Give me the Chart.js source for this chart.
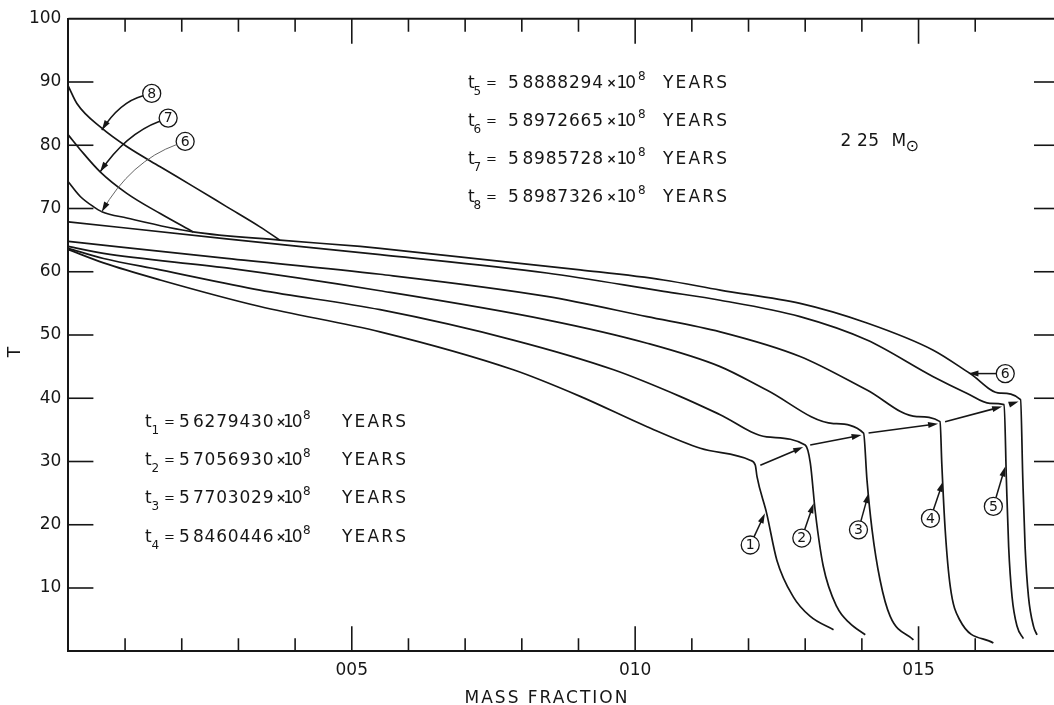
<!DOCTYPE html>
<html><head><meta charset="utf-8">
<script src="https://cdn.jsdelivr.net/npm/chart.js@4.4.1/dist/chart.umd.min.js"></script>
<style>html,body{margin:0;padding:0;background:#fff;overflow:hidden}#wrap{width:1054px;height:705px;position:relative}</style>
</head><body><div id="wrap"><canvas id="c" width="1054" height="705"></canvas></div>
<script>
// ---- data (mass fraction, T) ----
const massFrac1 = [0, 0.0062, 0.0162, 0.0338, 0.055, 0.0785, 0.0903, 0.1021, 0.1115, 0.1203, 0.1212, 0.1215, 0.1232, 0.125, 0.1279, 0.1309, 0.135];
const temp1     = [63.5, 61.4, 58.7, 54.5, 50.5, 44.5, 40.3, 35.5, 32.1, 30.2, 29.4, 27.6, 21.8, 14.4, 8.6, 5.5, 3.4];
const massFrac2 = [0, 0.0062, 0.0162, 0.0338, 0.055, 0.0785, 0.0962, 0.1079, 0.115, 0.1232, 0.1300, 0.1309, 0.1318, 0.1332, 0.1356, 0.1379, 0.1406];
const temp2     = [63.7, 62.1, 60.3, 57.1, 54.0, 49.2, 44.5, 40.3, 37.4, 33.9, 32.6, 29.8, 21.9, 13.4, 7.0, 4.4, 2.6];
const massFrac3 = [0, 0.0062, 0.0279, 0.055, 0.0844, 0.1021, 0.115, 0.1232, 0.135, 0.1403, 0.1409, 0.1418, 0.1432, 0.145, 0.1491];
const temp3     = [64.0, 62.9, 60.6, 57.0, 52.4, 48.7, 45.0, 41.3, 36.0, 34.5, 27.1, 19.2, 11.3, 5.5, 1.8];
const massFrac4 = [0, 0.0279, 0.055, 0.0844, 0.1021, 0.115, 0.1291, 0.1409, 0.1497, 0.1538, 0.1541, 0.1547, 0.1556, 0.1573, 0.1632];
const temp4     = [64.8, 62.1, 59.6, 56.1, 52.9, 50.5, 46.6, 41.3, 37.1, 36.3, 29.7, 19.2, 10.2, 4.9, 1.3];
const massFrac5 = [0, 0.0279, 0.055, 0.0844, 0.105, 0.115, 0.1291, 0.1409, 0.1526, 0.1585, 0.1626, 0.1651, 0.1655, 0.1659, 0.1665, 0.1674, 0.1685];
const temp5     = [67.9, 65.2, 62.7, 59.8, 56.9, 55.5, 52.9, 49.2, 43.4, 40.8, 39.2, 39.0, 27.1, 16.5, 8.6, 3.9, 2.0];
const massFrac6 = [0, 0.0021, 0.0044, 0.0059, 0.0103, 0.022, 0.0373, 0.0515, 0.055, 0.0903, 0.105, 0.115, 0.1291, 0.1409, 0.1526, 0.1591, 0.1644, 0.1680, 0.1684, 0.1688, 0.1694, 0.1703, 0.1709];
const temp6     = [74.2, 71.9, 70.3, 69.5, 68.5, 66.3, 65.0, 64.0, 63.7, 60.3, 58.7, 57.1, 55.0, 51.9, 47.6, 43.9, 40.8, 39.8, 27.1, 16.5, 8.6, 3.9, 2.6];
const massFrac7 = [0, 0.0021, 0.0056, 0.0103, 0.0162, 0.022];
const temp7     = [81.6, 79.3, 75.8, 72.4, 69.2, 66.3];
const massFrac8 = [0, 0.0015, 0.0059, 0.0103, 0.0162, 0.022, 0.0279, 0.0338, 0.0373];
const temp8     = [89.3, 86.6, 82.7, 79.8, 76.6, 73.5, 70.3, 67.1, 65.0];

const curveNames = ['1','2','3','4','5','6','7','8'];
const cornerIndex = [10, 10, 9, 9, 11, 17];   // end of the flat part of curves 1..6

// time labels t1..t8  (5.xxxxxxx x 10^8 years)
const timeSub  = ['1','2','3','4','5','6','7','8'];
const timeLead = ['5','5','5','5','5','5','5','5'];
const timeRest = ['6279430','7056930','7703029','8460446','8888294','8972665','8985728','8987326'];
const massLabel = ['2','25'];   // 2.25 M_sun

const xTickStep = 0.01, yTickStep = 10;

// callouts: circled number at [x,T], arrow to tip [x,T]
const callouts = [
  {n:'1', at:[0.1203,16.8], tip:[0.1229,21.8], bend:0},
  {n:'2', at:[0.1294,17.9], tip:[0.1315,23.4], bend:0},
  {n:'3', at:[0.1394,19.2], tip:[0.1412,25.0], bend:0},
  {n:'4', at:[0.1521,21.0], tip:[0.1543,26.8], bend:0},
  {n:'5', at:[0.1632,22.9], tip:[0.1653,29.2], bend:0},
  {n:'6', at:[0.1653,43.9], tip:[0.1588,43.9], bend:0},
  {n:'8', at:[0.0147,88.2], tip:[0.0059,82.4], bend:12},
  {n:'7', at:[0.0176,84.3], tip:[0.0056,75.8], bend:14},
  {n:'6', at:[0.0206,80.6], tip:[0.0059,69.5], bend:20, thin:true}
];

const INK = '#161616';
const FONT = '"DejaVu Sans", "Liberation Sans", sans-serif';

const xs = [massFrac1,massFrac2,massFrac3,massFrac4,massFrac5,massFrac6,massFrac7,massFrac8];
const ts = [temp1,temp2,temp3,temp4,temp5,temp6,temp7,temp8];
const datasets = xs.map((arr,i)=>({
  label: 'Curve ' + curveNames[i],
  data: arr.map((v,j)=>({x:v, y:ts[i][j]})),
  borderColor: INK, borderWidth: 1.7, pointRadius: 0, fill:false,
  cubicInterpolationMode: 'monotone'
}));

function arrowHead(ctx, tx, ty, fx, fy, len, w){
  const a = Math.atan2(ty-fy, tx-fx);
  const c = Math.cos(a), s = Math.sin(a);
  ctx.beginPath();
  ctx.moveTo(tx, ty);
  ctx.lineTo(tx - len*c + w*s, ty - len*s - w*c);
  ctx.lineTo(tx - len*c - w*s, ty - len*s + w*c);
  ctx.closePath(); ctx.fill();
}

function drawTLine(ctx, x, yb, i, L){
  ctx.textAlign = 'left'; ctx.textBaseline = 'alphabetic';
  ctx.letterSpacing = '0px';
  ctx.font = '17px ' + FONT; ctx.fillText('t', x, yb);
  ctx.font = '12px ' + FONT; ctx.fillText(timeSub[i], x + L.sub, yb + 7);
  ctx.font = '13px ' + FONT; ctx.fillText('=', x + L.eq, yb - 1);
  ctx.font = '17px ' + FONT;
  ctx.fillText(timeLead[i], x + L.d1, yb);
  ctx.letterSpacing = '0.8px'; ctx.fillText(timeRest[i], x + L.rest, yb);
  ctx.letterSpacing = '0px';
  ctx.font = 'bold 12px ' + FONT; ctx.fillText('×', x + L.times, yb - 1);
  ctx.font = '17px ' + FONT; ctx.letterSpacing = '-2px'; ctx.fillText('10', x + L.ten, yb);
  ctx.letterSpacing = '0px';
  ctx.font = '12px ' + FONT; ctx.fillText('8', x + L.sup, yb - 8);
  ctx.font = '17px ' + FONT; ctx.letterSpacing = '2.2px'; ctx.fillText('YEARS', x + L.years, yb);
  ctx.letterSpacing = '0px';
}

const deco = {
  id: 'deco',
  afterDatasetsDraw(chart){
    const {ctx, chartArea: a, scales: {x, y}} = chart;
    ctx.save();
    ctx.strokeStyle = INK; ctx.fillStyle = INK;
    const line = (x1,y1,x2,y2)=>{ctx.beginPath();ctx.moveTo(x1,y1);ctx.lineTo(x2,y2);ctx.stroke();};
    // top frame
    ctx.lineWidth = 2;
    line(a.left, a.top, a.right, a.top);
    // inward ticks
    ctx.lineWidth = 1.6;
    x.ticks.forEach(t=>{
      const k = Math.round(t.value*100);
      if (Math.abs(t.value*100 - k) > 1e-6 || k === 0) return;
      const px = x.getPixelForValue(t.value);
      const len = (k % 5 === 0) ? 25 : 13;
      line(px, a.bottom, px, a.bottom - len);
      line(px, a.top, px, a.top + len);
    });
    y.ticks.forEach(t=>{
      if (t.value === 0 || t.value === 100) return;
      const py = y.getPixelForValue(t.value);
      line(a.left, py, a.left + 25, py);
      line(a.right, py, a.right - 20, py);
    });
    // time-step arrows between curve corners
    ctx.lineWidth = 1.6;
    for (let i = 0; i < 5; i++){
      const c1 = chart.getDatasetMeta(i).data[cornerIndex[i]];
      const c2 = chart.getDatasetMeta(i+1).data[cornerIndex[i+1]];
      const sx = c1.x + 5, sy = c1.y, ex = c2.x - 2, ey = c2.y + 2;
      const d = Math.hypot(ex-sx, ey-sy);
      line(sx, sy, ex - 6*(ex-sx)/d, ey - 6*(ey-sy)/d);
      arrowHead(ctx, ex, ey, sx, sy, 10, 3);
    }
    // callouts
    const R = 9;
    callouts.forEach(c=>{
      const cx = x.getPixelForValue(c.at[0]), cy = y.getPixelForValue(c.at[1]);
      const tx = x.getPixelForValue(c.tip[0]), ty = y.getPixelForValue(c.tip[1]);
      ctx.lineWidth = 1.3;
      ctx.beginPath(); ctx.arc(cx, cy, R, 0, Math.PI*2); ctx.stroke();
      ctx.font = '14px ' + FONT; ctx.textAlign = 'center'; ctx.textBaseline = 'middle';
      ctx.letterSpacing = '0px';
      ctx.fillText(c.n, cx, cy + 0.5);
      ctx.lineWidth = c.thin ? 0.9 : 1.5;
      ctx.strokeStyle = c.thin ? '#555' : INK;
      if (!c.bend){
        const d = Math.hypot(tx-cx, ty-cy);
        const sx = cx + (tx-cx)/d*R, sy = cy + (ty-cy)/d*R;
        line(sx, sy, tx - (tx-cx)/d*6, ty - (ty-cy)/d*6);
        arrowHead(ctx, tx, ty, sx, sy, 10, 3);
      } else {
        const mx = (cx+tx)/2, my = (cy+ty)/2;
        const dx = tx-cx, dy = ty-cy, d = Math.hypot(dx,dy);
        const nx = dy/d, ny = -dx/d;
        let kx = mx + nx*c.bend, ky = my + ny*c.bend;
        if (nx + ny > 0){ kx = mx - nx*c.bend; ky = my - ny*c.bend; }
        const dk = Math.hypot(kx-cx, ky-cy);
        const sx = cx + (kx-cx)/dk*R, sy = cy + (ky-cy)/dk*R;
        ctx.beginPath(); ctx.moveTo(sx, sy); ctx.quadraticCurveTo(kx, ky, tx, ty); ctx.stroke();
        arrowHead(ctx, tx, ty, kx, ky, 10, 3);
      }
      ctx.strokeStyle = INK;
    });
    // text blocks
    const L1 = {sub:6.5, eq:19, d1:34, rest:48, times:131, ten:138, sup:158, years:197};
    const L2 = {sub:5.5, eq:18, d1:40, rest:54.5, times:138.5, ten:148.5, sup:170, years:195};
    [427, 465, 503.3, 541.7].forEach((yb,i)=>drawTLine(ctx, 145, yb, i, L1));
    [88.3, 126.3, 164.3, 202.3].forEach((yb,i)=>drawTLine(ctx, 468, yb, i+4, L2));
    // 2.25 M_sun
    ctx.textAlign = 'left'; ctx.textBaseline = 'alphabetic';
    ctx.font = '17px ' + FONT; ctx.letterSpacing = '0.5px';
    ctx.fillText(massLabel[0], 840.5, 146);
    ctx.fillText(massLabel[1], 857, 146);
    ctx.fillText('M', 891.5, 146);
    ctx.font = '16px ' + FONT; ctx.letterSpacing = '0px';
    ctx.fillText('\u2299', 905.5, 151);
    // axis titles
    ctx.font = '17px ' + FONT; ctx.letterSpacing = '2px';
    ctx.textAlign = 'center';
    ctx.fillText('MASS FRACTION', 547, 703);
    ctx.letterSpacing = '0px';
    ctx.save(); ctx.translate(16, 352); ctx.rotate(-Math.PI/2);
    ctx.textBaseline = 'middle'; ctx.fillText('T', 0, 0); ctx.restore();
    ctx.restore();
  }
};

new Chart(document.getElementById('c'), {
  type: 'line',
  data: { datasets },
  options: {
    responsive: false, animation: false, devicePixelRatio: 1,
    layout: { padding: { top: 18.75, right: 0, bottom: 0, left: 0 } },
    plugins: { legend: { display: false }, tooltip: { enabled: false } },
    scales: {
      x: {
        type: 'linear', min: 0, max: 0.1739,
        afterFit(s){ s.height = 53.75; s.paddingRight = 0; s.paddingLeft = 0; },
        grid: { display: false, drawTicks: false },
        border: { display: true, color: INK, width: 2 },
        ticks: {
          stepSize: xTickStep, autoSkip: false, maxRotation: 0, padding: 9, color: INK,
          font: { family: 'DejaVu Sans', size: 17 },
          callback: (v)=>{
            const k = Math.round(v*100);
            if (Math.abs(v*100 - k) > 1e-6 || k === 0 || k % 5 !== 0) return '';
            return (k/100).toFixed(2).replace('.', '');
          }
        }
      },
      y: {
        min: 0, max: 100,
        afterFit(s){ s.width = 68.4; s.paddingTop = 0; s.paddingBottom = 0; },
        grid: { display: false, drawTicks: false },
        border: { display: true, color: INK, width: 2 },
        ticks: {
          stepSize: yTickStep, padding: 7, color: INK,
          font: { family: 'DejaVu Sans', size: 17 },
          callback: (v)=> v === 0 ? '' : String(v)
        }
      }
    }
  },
  plugins: [deco]
});
</script>
</body></html>
